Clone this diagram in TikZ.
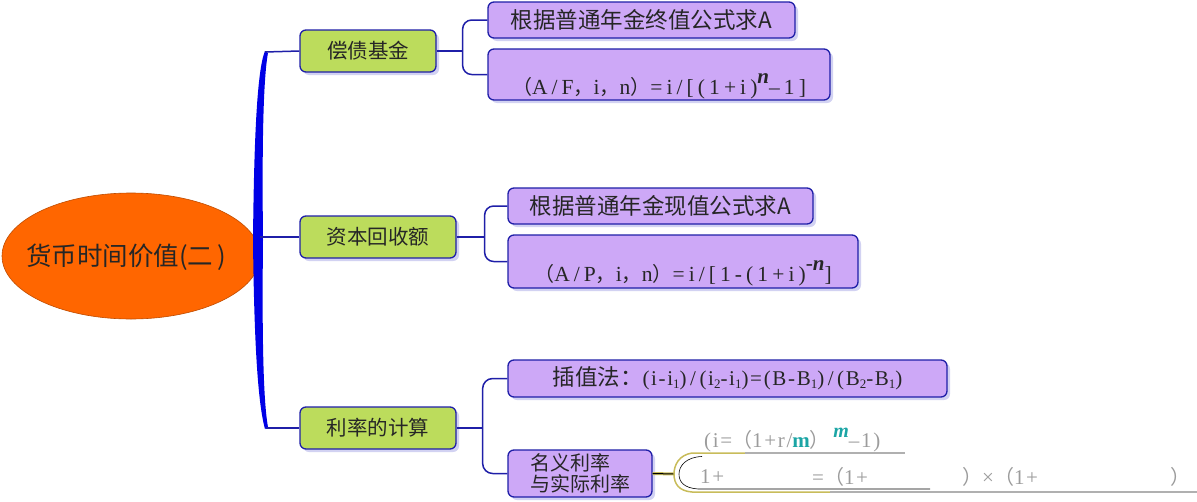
\documentclass[tikz,border=0pt]{standalone}
\usepackage{fontspec}
\setmainfont{Noto Sans CJK SC}
\newfontfamily\ser{Liberation Serif}
\newfontfamily\lser[LetterSpace=8]{Liberation Serif}
\newfontfamily\wser[LetterSpace=19]{Liberation Serif}
\newfontfamily\cjk{Noto Sans CJK SC}
\usetikzlibrary{shapes.geometric,shadows,calc}
\definecolor{trunk}{HTML}{0000E6}
\definecolor{edge}{HTML}{1F1FA8}
\definecolor{greenf}{HTML}{BCDC5C}
\definecolor{purf}{HTML}{CDA8F7}
\definecolor{orangef}{HTML}{FF6600}
\definecolor{txt}{HTML}{262626}
\definecolor{shad}{HTML}{D2D2F2}
\definecolor{khaki}{HTML}{C8BC5A}
\definecolor{ghost}{HTML}{9C9C9C}
\definecolor{tealm}{HTML}{1BA5A5}
\newcommand{\lowsub}[1]{\raisebox{-0.3ex}{\ser\fontsize{13}{13}\selectfont #1}}
\newcommand{\fw}[1]{{\cjk\fontsize{20}{22}\selectfont #1}}
\newcommand{\fm}{\lser\fontsize{21}{22}\selectfont}
\newcommand{\fmw}{\wser\fontsize{21.5}{22}\selectfont}
\tikzset{
 box/.style={draw=edge, line width=1.3pt, rounded corners=6pt, inner sep=0pt, text=txt,
   drop shadow={shadow xshift=3pt, shadow yshift=-3pt, fill=shad, opacity=1}},
 gbox/.style={box, fill=greenf, font=\fontsize{20.5}{24}\selectfont},
 pbox/.style={box, fill=purf, font=\fontsize{22.5}{26}\selectfont},
 fbox/.style={pbox, text height=44pt, text depth=4pt, inner ysep=1pt},
 link/.style={draw=edge, line width=1.5pt},
 ghosttext/.style={text=ghost, font=\fm, anchor=west, inner sep=0pt},
}
\begin{document}
\begin{tikzpicture}[x=1pt,y=-1pt]
\useasboundingbox (0,0) rectangle (1197,501);
% root
\node[ellipse, fill=orangef, draw=orangef!75!black, line width=0.6pt, minimum width=258pt,
  minimum height=126pt, inner sep=0pt] (root) at (131,256) {};
\node[text=txt, font=\fontsize{25.5}{28}\selectfont, inner sep=0pt] (roottext) at (126,257) {货币时间价值(二\,)};
% trunk
\fill[trunk] (253,240) .. controls (254,140) and (257,70) .. (265,51) -- (268,53)
  .. controls (263,80) and (262,150) .. (263,240)
  .. controls (262,330) and (263,400) .. (268,427) -- (265,429)
  .. controls (257,400) and (254,330) .. (253,240) -- cycle;
\coordinate (ttop) at (265,52);
\coordinate (tmid) at (260,237);
\coordinate (tbot) at (266,428);
% level 1
\node[gbox, minimum width=136pt, minimum height=42pt] (n1) at (368,51) {偿债基金};
\node[gbox, minimum width=156pt, minimum height=42pt] (n2) at (378,237) {资本回收额};
\node[gbox, minimum width=156pt, minimum height=42pt] (n3) at (378,428) {利率的计算};
\draw[link] (ttop) -- (n1.west);
\draw[link] (tmid) -- (n2.west);
\draw[link] (tbot) -- (n3.west);
% level 2
\node[pbox, minimum width=307pt, minimum height=36pt] (a) at (641.5,20) {根据普通年金终值公式求A};
\node[fbox, minimum width=342pt, minimum height=51pt] (b) at (659,74.5)
  {\fmw\fw{（}A/F\fw{，}i\fw{，}n\fw{）}=i/[(1+i)\raisebox{0.5em}{\ser\fontsize{21}{22}\selectfont\bfseries\itshape n}–1]};
\node[pbox, minimum width=305pt, minimum height=36pt] (c) at (660.5,206) {根据普通年金现值公式求A};
\node[fbox, minimum width=350pt, minimum height=53pt] (d) at (683,261.5)
  {\fmw\fw{（}A/P\fw{，}i\fw{，}n\fw{）}=i/[1-(1+i)\raisebox{0.5em}{-{\ser\fontsize{21}{22}\selectfont\bfseries\itshape n}}]};
\node[pbox, minimum width=439pt, minimum height=37pt] (e) at (727.5,378.5)
  {插值法：{\fm (i-i\lowsub{1})\,/\,(i\lowsub{2}-i\lowsub{1})=(B-B\lowsub{1})\,/\,(B\lowsub{2}-B\lowsub{1})}};
\node[pbox, minimum width=144pt, minimum height=47pt, align=left,
  font=\fontsize{20}{21}\selectfont] (f) at (580,473.5) {名义利率\\与实际利率};
% brackets
\coordinate (j1) at ($(n1.east)+(26,0)$);
\coordinate (j2) at ($(n2.east)+(28,0)$);
\coordinate (j3) at ($(n3.east)+(26,0)$);
\draw[link] (n1.east) -- (j1);
\draw[link, rounded corners=9pt] (a.west) -| (j1) |- (b.west);
\draw[link] (n2.east) -- (j2);
\draw[link, rounded corners=9pt] (c.west) -| (j2) |- (d.west);
\draw[link] (n3.east) -- (j3);
\draw[link, rounded corners=10pt] (e.west) -| (j3) |- (f.west);
% bottom right
\coordinate (k0) at (674,474);
\coordinate (ktop) at (905,453);
\coordinate (kbot) at (1197,492);
\draw[khaki, line width=3pt] (f.east) -- (k0);
\draw[black, line width=1pt] (f.east) -- (k0);
\draw[khaki, line width=1.5pt] (745,453) -- (692,453) .. controls (679,455) and (674,465) .. (k0)
  .. controls (674,484) and (679,491) .. (692,492) -- (830,492);
\draw[ghost!80, line width=1.2pt] (745,453) -- (ktop);
\draw[ghost!80, line width=1.2pt] (830,492) -- (kbot);
\draw[black, line width=0.6pt] (702,456.5) .. controls (686,457) and (679,466) .. (679,474)
  .. controls (679,482) and (684,488) .. (698,489) -- (930,489);
\node[ghosttext] (t1) at (704,440) {(i=\fw{（}1+r/\textcolor{tealm}{\bfseries m}\fw{）}\,\raisebox{0.5em}{\textcolor{tealm}{\ser\fontsize{20}{22}\selectfont\bfseries\itshape m}}–1)};
\node[ghosttext] (b1) at (700,477) {1+};
\node[ghosttext] (b2) at (812,477) {=\fw{（}1+};
\node[ghosttext] (b3) at (962,477) {\fw{）}×\fw{（}1+};
\node[ghosttext] (b4) at (1170,477) {\fw{）}};
\end{tikzpicture}
\end{document}
